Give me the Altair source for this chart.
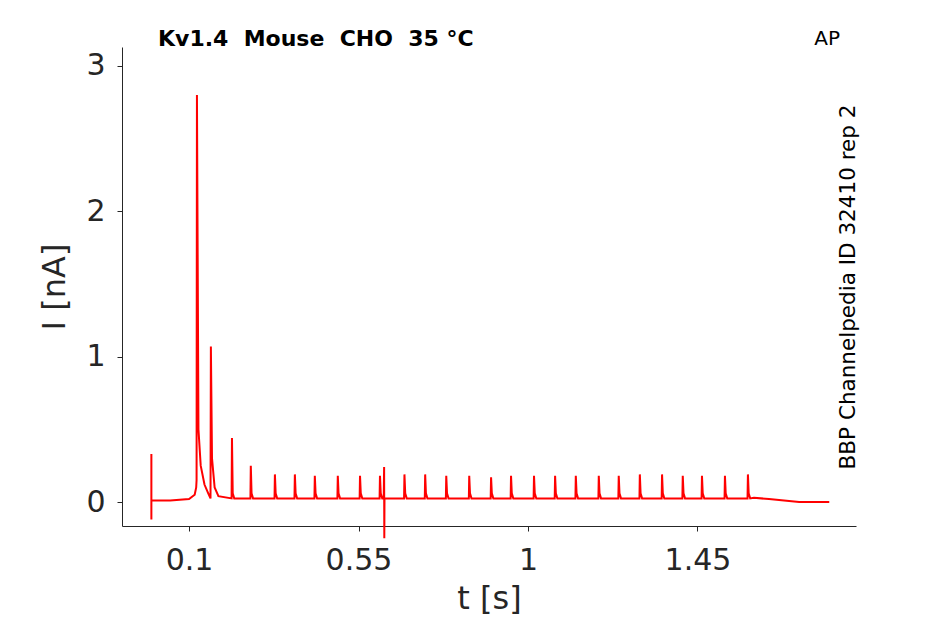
import pandas as pd
import altair as alt

# spike times (s) and peak currents (nA)
spike_t = [0.121, 0.158, 0.214, 0.264, 0.328, 0.381, 0.434, 0.495, 0.554, 0.607,
           0.672, 0.727, 0.783, 0.844, 0.902, 0.955, 1.016, 1.072, 1.127, 1.188,
           1.241, 1.297, 1.356, 1.411, 1.462, 1.523, 1.584]
spike_i = [2.8, 1.07, 0.44, 0.25, 0.19, 0.19, 0.18, 0.18, 0.18, 0.18,
           0.19, 0.19, 0.18, 0.18, 0.17, 0.18, 0.18, 0.18, 0.18, 0.18,
           0.18, 0.19, 0.19, 0.18, 0.18, 0.18, 0.19]
# decay tail after the main spike (time offset, value)
tail_main = [(0.004, 0.5), (0.01, 0.25), (0.02, 0.12), (0.03, 0.06)]
# slow components of the trace
pre_t = [0.0, 0.0, 0.0, 0.05, 0.1, 0.115, 0.119]
pre_i = [0.33, -0.12, 0.01, 0.01, 0.02, 0.05, 0.1]
end_t = [1.6, 1.64, 1.68, 1.72, 1.76, 1.8]
end_i = [0.03, 0.02, 0.01, 0.0, 0.0, 0.0]
art_t = 0.618
art_i = [0.24, -0.25]

rows = list(zip(pre_t, pre_i))
for k, (t, p) in enumerate(zip(spike_t, spike_i)):
    rows.append((t - 0.001, 0.025 if k else 0.15))
    rows.append((t, p))
    if k == 0:
        rows += [(t + d, v) for d, v in tail_main]
    elif k == 1:
        rows += [(t + 0.003, 0.3), (t + 0.01, 0.1), (t + 0.02, 0.04)]
    else:
        rows.append((t + 0.002, 0.06))
        rows.append((t + 0.006, 0.025))
    if k == 9:
        rows += [(art_t - 0.001, 0.025), (art_t, art_i[0]), (art_t + 0.0005, art_i[1]),
                 (art_t + 0.001, 0.025)]
rows += list(zip(end_t, end_i))
df = pd.DataFrame(rows, columns=["t", "i"])
df["o"] = range(len(df))

font = "DejaVu Sans"
ax = dict(grid=False, labelFontSize=30, titleFontSize=32, labelColor="#262626",
          titleColor="#262626", domainColor="#262626", tickColor="#262626",
          labelFont=font, titleFont=font, titleFontWeight="normal", tickSize=5)
line = alt.Chart(df).mark_line(color="#ff0000", strokeWidth=2, clip=False).encode(
    x=alt.X("t:Q", scale=alt.Scale(domain=[-0.078, 1.871], nice=False, zero=False),
            axis=alt.Axis(values=[0.1, 0.55, 1, 1.45], labelExpr="datum.value + ''",
                          title="t [s]", labelPadding=14, titlePadding=8, **ax)),
    y=alt.Y("i:Q", scale=alt.Scale(domain=[-0.165, 3.13], nice=False, zero=False),
            axis=alt.Axis(values=[0, 1, 2, 3], title="I [nA]", labelPadding=12,
                          titlePadding=14, **ax)),
    order="o:Q",
)

txt = pd.DataFrame({"label": ["AP", "BBP Channelpedia ID 32410 rep 2",
                              "Kv1.4\u00a0\u00a0Mouse\u00a0\u00a0CHO\u00a0\u00a035 °C"]})
ap = alt.Chart(txt.iloc[[0]]).mark_text(fontSize=20, font=font, align="right",
                                        baseline="middle").encode(
    x=alt.value(718), y=alt.value(-8), text="label:N")
side = alt.Chart(txt.iloc[[1]]).mark_text(fontSize=21.5, font=font, angle=270,
                                          align="center", baseline="middle").encode(
    x=alt.value(727), y=alt.value(240), text="label:N")
title = alt.Chart(txt.iloc[[2]]).mark_text(fontSize=22, font=font, fontWeight="bold",
                                           align="left", baseline="middle").encode(
    x=alt.value(36), y=alt.value(-8), text="label:N")

chart = (line + ap + side + title).properties(
    width=734, height=479,
    autosize=alt.AutoSizeParams(type="none"),
    padding={"left": 114, "top": 39, "right": 80, "bottom": 90},
).configure(background="white").configure_view(stroke=None)

chart.save("out.html", embed_options={"renderer": "svg", "actions": False})
